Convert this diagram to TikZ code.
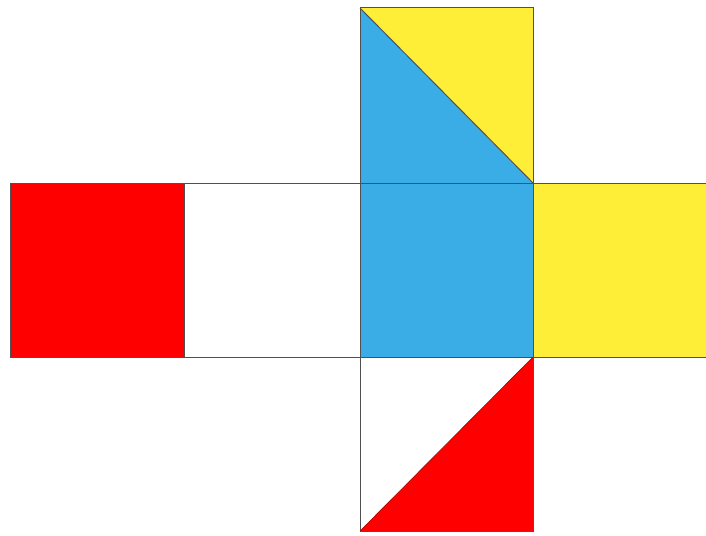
\documentclass[tikz,border=0pt]{standalone}
\definecolor{cred}{HTML}{FF0000}
\definecolor{cblue}{HTML}{3BADE6}
\definecolor{cyellow}{HTML}{FFEE38}
\definecolor{cedge}{HTML}{505050}
\begin{document}
\begin{tikzpicture}[x=1pt,y=-1pt,
  edge/.style={draw=cedge,line width=1pt},
  face/.style={edge}]
\useasboundingbox (0,0) rectangle (706,535);
% middle row
\filldraw[face,fill=cred] (10,183) rectangle (184,357);
\draw[face] (184,183) rectangle (360,357);
\filldraw[face,fill=cblue] (360,183) rectangle (533,357);
\fill[cyellow] (533,183) rectangle (706,357);
\draw[edge] (706,183) -- (533,183) -- (533,357) -- (706,357);
% top square
\fill[cblue] (360,8) -- (533,183) -- (360,183) -- cycle;
\fill[cyellow] (360,8) -- (533,8) -- (533,183) -- cycle;
\draw[edge] (360,8) rectangle (533,183);
\draw[edge] (360,8) -- (533,183);
% bottom square
\fill[cred] (360,531) -- (533,357) -- (533,531) -- cycle;
\draw[edge] (360,357) rectangle (533,531);
\draw[edge,draw=cred!70!black,line width=0.6pt] (360,531) -- (533,357);
\end{tikzpicture}
\end{document}
